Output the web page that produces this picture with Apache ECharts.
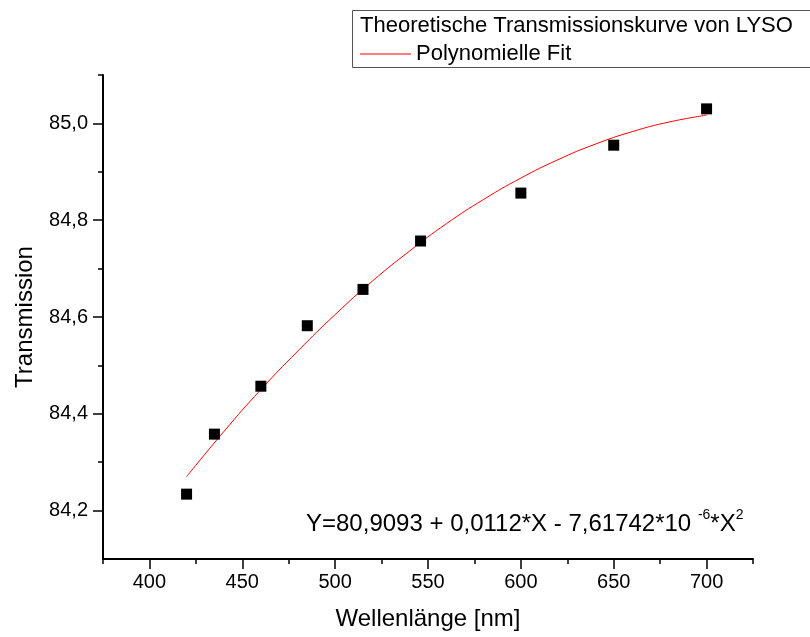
<!DOCTYPE html>
<html>
<head>
<meta charset="utf-8">
<script src="https://cdn.jsdelivr.net/npm/echarts@6/dist/echarts.min.js"></script>
<style>
html,body{margin:0;padding:0;background:#fff;}
#chart{width:810px;height:637px;}
</style>
</head>
<body>
<div id="chart"></div>
<script>
// Measured data (wavelength in nm, transmission in %)
const wavelengths = [420, 435, 460, 485, 515, 546, 600, 650, 700];
const transmission = [84.234, 84.358, 84.457, 84.582, 84.657, 84.757, 84.856, 84.955, 85.030];

// Fit curve
const fitX = [420, 440, 460, 480, 500, 520, 540, 560, 580, 600, 620, 640, 660, 680, 700];
const fitY = [84.270, 84.363, 84.450, 84.530, 84.605, 84.674, 84.736, 84.793, 84.843, 84.887, 84.925, 84.957, 84.983, 85.003, 85.017];

// Tick values
const xMajorTicks = [400, 450, 500, 550, 600, 650, 700];
const xMinorTicks = [375, 425, 475, 525, 575, 625, 675, 725];
const yMajorTicks = [84.2, 84.4, 84.6, 84.8, 85.0];
const yMinorTicks = [84.3, 84.5, 84.7, 84.9, 85.1];

const seriesNames = ['Theoretische Transmissionskurve von LYSO', 'Polynomielle Fit'];
const equationText = ['Y=80,9093 + 0,0112*X - 7,61742*10 ', '-6', '*X', '2'];

const FONT = "'Liberation Sans', Arial, sans-serif";

const chart = echarts.init(document.getElementById('chart'), null, {renderer: 'canvas'});

const scatterData = wavelengths.map((x, i) => [x, transmission[i]]);
const fitData = fitX.map((x, i) => [x, fitY[i]]);

const fmtY = v => Number(v).toFixed(1).replace('.', ',');

const option = {
  backgroundColor: '#ffffff',
  animation: false,
  grid: {left: 103, right: 57, top: 75, bottom: 78, containLabel: false},
  xAxis: [
    {
      type: 'value', min: 375, max: 725,
      name: 'Wellenlänge [nm]', nameLocation: 'middle', nameGap: 48,
      nameTextStyle: {fontFamily: FONT, fontSize: 24, color: '#000'},
      axisLine: {show: true, lineStyle: {color: '#000', width: 2}},
      axisTick: {show: true, customValues: xMajorTicks, length: 10, lineStyle: {color: '#000', width: 1.5}},
      axisLabel: {customValues: xMajorTicks, fontFamily: FONT, fontSize: 20, color: '#000', margin: 13},
      splitLine: {show: false}
    },
    {
      type: 'value', min: 375, max: 725, position: 'bottom',
      axisLine: {show: false},
      axisTick: {show: true, customValues: xMinorTicks, length: 5, lineStyle: {color: '#000', width: 1.5}},
      axisLabel: {show: false},
      splitLine: {show: false}
    }
  ],
  yAxis: [
    {
      type: 'value', min: 84.1, max: 85.1,
      name: 'Transmission', nameLocation: 'middle', nameGap: 66,
      nameTextStyle: {fontFamily: FONT, fontSize: 24, color: '#000'},
      axisLine: {show: true, lineStyle: {color: '#000', width: 2}},
      axisTick: {show: true, customValues: yMajorTicks, length: 10, lineStyle: {color: '#000', width: 1.5}},
      axisLabel: {customValues: yMajorTicks, formatter: fmtY, fontFamily: FONT, fontSize: 20, color: '#000', margin: 15},
      splitLine: {show: false}
    },
    {
      type: 'value', min: 84.1, max: 85.1, position: 'left',
      axisLine: {show: false},
      axisTick: {show: true, customValues: yMinorTicks, length: 5, lineStyle: {color: '#000', width: 1.5}},
      axisLabel: {show: false},
      splitLine: {show: false}
    }
  ],
  legend: [
    {
      data: [{name: seriesNames[0], icon: 'none'}],
      left: 355, top: 13, padding: 0, itemWidth: 0, itemHeight: 14,
      selectedMode: false,
      textStyle: {fontFamily: FONT, fontSize: 22, color: '#000', lineHeight: 26}
    },
    {
      data: [{name: seriesNames[1], icon: 'rect', itemStyle: {color: '#ff0000'}}],
      left: 360, top: 41, padding: 0, itemWidth: 51, itemHeight: 1,
      selectedMode: false,
      itemStyle: {color: '#ff0000', borderWidth: 0},
      lineStyle: {width: 0},
      textStyle: {fontFamily: FONT, fontSize: 22, color: '#000', lineHeight: 26}
    }
  ],
  graphic: [
    {
      type: 'rect', silent: true, z: 0,
      shape: {x: 352.5, y: 10.5, width: 480, height: 57},
      style: {fill: 'none', stroke: '#555', lineWidth: 1}
    },
    {
      type: 'text', left: 306, top: 508, z: 10,
      style: {
        text: '{a|' + equationText[0] + '}{s|' + equationText[1] + '}{a|' + equationText[2] + '}{s|' + equationText[3] + '}',
        rich: {
          a: {fontFamily: FONT, fontSize: 24, color: '#000', lineHeight: 28, verticalAlign: 'bottom'},
          s: {fontFamily: FONT, fontSize: 14, color: '#000', lineHeight: 28, verticalAlign: 'top'}
        }
      }
    }
  ],
  series: [
    {
      name: seriesNames[0], type: 'scatter', xAxisIndex: 0, yAxisIndex: 0,
      symbol: 'rect', symbolSize: 11,
      itemStyle: {color: '#000', opacity: 1},
      data: scatterData, z: 3
    },
    {
      name: seriesNames[1], type: 'line', xAxisIndex: 0, yAxisIndex: 0,
      symbol: 'none', smooth: true,
      lineStyle: {color: '#ff0000', width: 1},
      itemStyle: {color: '#ff0000'},
      data: fitData, z: 2
    }
  ]
};
chart.setOption(option);
</script>
</body>
</html>
